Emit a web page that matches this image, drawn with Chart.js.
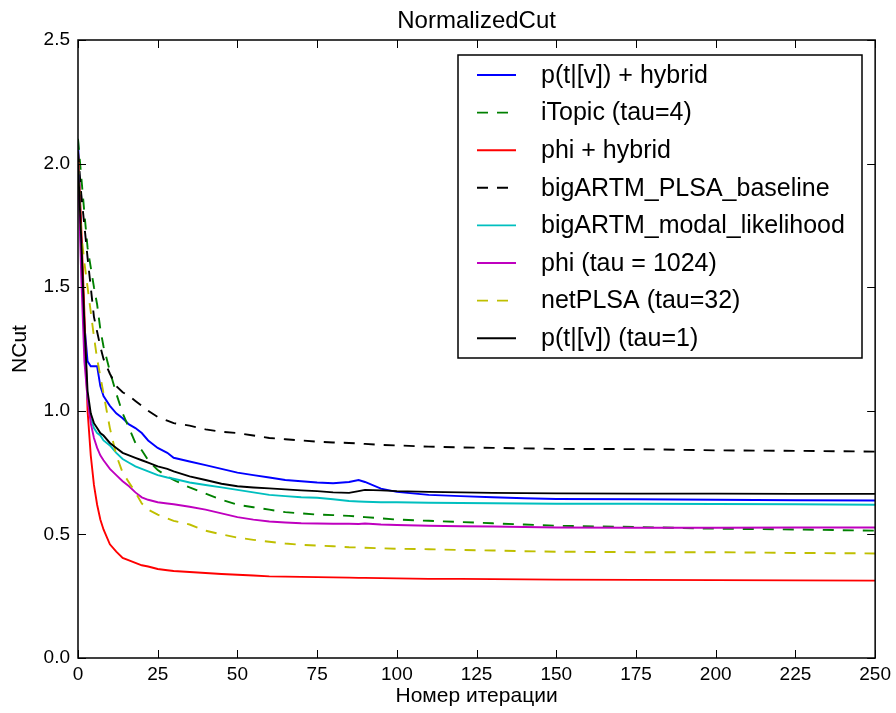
<!DOCTYPE html>
<html>
<head>
<meta charset="utf-8">
<style>
  html, body { margin: 0; padding: 0; background: #fff; }
  #wrap { width: 896px; height: 713px; }
</style>
<script src="https://cdn.jsdelivr.net/npm/chart.js@4.4.0/dist/chart.umd.min.js"></script>
</head>
<body>
<div id="wrap"><canvas id="myChart" width="896" height="713"></canvas></div>
<script>
// iteration numbers where values were read
const iterations = [0, 1, 2, 3, 4, 5, 6, 7, 8, 10, 12, 14, 16, 18, 20, 22, 25, 28, 30, 35, 40, 45, 50, 55, 60, 65, 70, 75, 80, 85, 88, 90, 95, 100, 110, 120, 130, 140, 150, 175, 200, 225, 250];

const seriesNames = ['p(t|[v]) + hybrid', 'iTopic (tau=4)', 'phi + hybrid', 'bigARTM_PLSA_baseline',
    'bigARTM_modal_likelihood', 'phi (tau = 1024)', 'netPLSA (tau=32)', 'p(t|[v]) (tau=1)'];

const ptvHybrid = [2.1, 1.7, 1.35, 1.2, 1.18, 1.18, 1.18, 1.1, 1.06, 1.02, 0.99, 0.97, 0.945, 0.93, 0.91, 0.88, 0.85, 0.83, 0.81, 0.795, 0.78, 0.765, 0.75, 0.74, 0.73, 0.72, 0.715, 0.71, 0.707, 0.712, 0.72, 0.712, 0.685, 0.672, 0.66, 0.655, 0.65, 0.646, 0.643, 0.642, 0.64, 0.638, 0.637];
const iTopic = [2.1, 1.95, 1.8, 1.66, 1.58, 1.5, 1.43, 1.33, 1.26, 1.16, 1.07, 0.99, 0.93, 0.87, 0.84, 0.8, 0.76, 0.735, 0.72, 0.69, 0.665, 0.64, 0.62, 0.61, 0.6, 0.59, 0.585, 0.58, 0.578, 0.575, 0.572, 0.57, 0.565, 0.56, 0.555, 0.55, 0.545, 0.54, 0.535, 0.53, 0.523, 0.52, 0.515];
const phiHybrid = [2.05, 1.75, 1.4, 1.0, 0.82, 0.7, 0.62, 0.56, 0.52, 0.46, 0.43, 0.405, 0.395, 0.385, 0.375, 0.37, 0.36, 0.355, 0.352, 0.348, 0.344, 0.34, 0.337, 0.334, 0.33, 0.329, 0.328, 0.327, 0.326, 0.325, 0.324, 0.324, 0.323, 0.322, 0.32, 0.32, 0.319, 0.318, 0.317, 0.316, 0.315, 0.314, 0.313];
const plsaBaseline = [2.05, 1.88, 1.75, 1.62, 1.5, 1.38, 1.32, 1.26, 1.21, 1.15, 1.1, 1.075, 1.06, 1.04, 1.02, 1.0, 0.975, 0.96, 0.95, 0.94, 0.925, 0.915, 0.91, 0.9, 0.89, 0.885, 0.88, 0.875, 0.872, 0.87, 0.868, 0.866, 0.862, 0.86, 0.855, 0.852, 0.85, 0.848, 0.846, 0.845, 0.84, 0.838, 0.835];
const modalLikelihood = [2.0, 1.65, 1.3, 1.05, 0.97, 0.93, 0.91, 0.9, 0.88, 0.86, 0.83, 0.805, 0.79, 0.775, 0.765, 0.755, 0.74, 0.73, 0.725, 0.71, 0.7, 0.69, 0.68, 0.67, 0.66, 0.655, 0.65, 0.648, 0.642, 0.635, 0.633, 0.632, 0.63, 0.63, 0.628, 0.627, 0.626, 0.625, 0.624, 0.624, 0.623, 0.622, 0.62];
const phiTau1024 = [2.0, 1.55, 1.2, 1.05, 0.95, 0.89, 0.85, 0.82, 0.8, 0.765, 0.74, 0.715, 0.695, 0.67, 0.65, 0.64, 0.63, 0.625, 0.622, 0.612, 0.6, 0.585, 0.57, 0.56, 0.552, 0.548, 0.545, 0.544, 0.543, 0.543, 0.542, 0.544, 0.54, 0.538, 0.535, 0.533, 0.532, 0.53, 0.528, 0.527, 0.527, 0.528, 0.528];
const netPLSA = [2.0, 1.72, 1.6, 1.5, 1.4, 1.3, 1.21, 1.14, 1.07, 0.93, 0.82, 0.75, 0.71, 0.67, 0.625, 0.6, 0.58, 0.565, 0.555, 0.54, 0.515, 0.5, 0.487, 0.478, 0.47, 0.463, 0.458, 0.455, 0.452, 0.448, 0.447, 0.446, 0.444, 0.442, 0.44, 0.437, 0.435, 0.432, 0.43, 0.428, 0.428, 0.425, 0.423];
const ptvTau1 = [2.0, 1.7, 1.35, 1.08, 0.99, 0.95, 0.93, 0.91, 0.9, 0.87, 0.85, 0.83, 0.82, 0.81, 0.8, 0.79, 0.775, 0.765, 0.755, 0.735, 0.72, 0.705, 0.695, 0.69, 0.686, 0.682, 0.678, 0.675, 0.67, 0.668, 0.675, 0.68, 0.678, 0.675, 0.672, 0.67, 0.668, 0.667, 0.666, 0.665, 0.665, 0.664, 0.664];

const xTicks = [0, 25, 50, 75, 100, 125, 150, 175, 200, 225, 250];
const yTicks = [0.0, 0.5, 1.0, 1.5, 2.0, 2.5];

const FONT = "'Liberation Sans', Arial, sans-serif";
const seriesValues = [ptvHybrid, iTopic, phiHybrid, plsaBaseline, modalLikelihood, phiTau1024, netPLSA, ptvTau1];
const seriesColors = ['#0000ff', '#008000', '#ff0000', '#000000', '#00bfbf', '#bf00bf', '#bfbf00', '#000000'];
const seriesDashed = [false, true, false, true, false, false, true, false];

const datasets = seriesNames.map((name, i) => ({
    label: name,
    data: iterations.map((it, j) => ({ x: it, y: seriesValues[i][j] })),
    borderColor: seriesColors[i],
    borderDash: seriesDashed[i] ? [11, 9] : [],
    borderWidth: 1.9,
    pointRadius: 0,
    tension: 0,
    fill: false,
    order: seriesNames.length - i   // later series on top, like matplotlib
}));

// frame, inward ticks and boxed legend inside the plot
const framePlugin = {
    id: 'frame',
    afterDatasetsDraw(chart) {
        const { ctx, chartArea: a, scales } = chart;
        ctx.save();
        ctx.strokeStyle = '#000';
        ctx.lineWidth = 1.5;
        ctx.strokeRect(a.left, a.top, a.right - a.left, a.bottom - a.top);
        ctx.lineWidth = 1;
        ctx.beginPath();
        xTicks.forEach(v => {
            const px = Math.round(scales.x.getPixelForValue(v)) + 0.5;
            ctx.moveTo(px, a.bottom); ctx.lineTo(px, a.bottom - 8);
            ctx.moveTo(px, a.top); ctx.lineTo(px, a.top + 8);
        });
        yTicks.forEach(v => {
            const py = Math.round(scales.y.getPixelForValue(v)) + 0.5;
            ctx.moveTo(a.left, py); ctx.lineTo(a.left + 8, py);
            ctx.moveTo(a.right, py); ctx.lineTo(a.right - 8, py);
        });
        ctx.stroke();

        // legend
        const bx = 458, by = 55, bw = 404, bh = 303, rowH = 37.6;
        ctx.fillStyle = '#fff';
        ctx.fillRect(bx, by, bw, bh);
        ctx.lineWidth = 1.5;
        ctx.strokeStyle = '#000';
        ctx.strokeRect(bx, by, bw, bh);
        ctx.font = '25px ' + FONT;
        ctx.textBaseline = 'middle';
        chart.data.datasets.forEach((ds, i) => {
            const y = by + 20 + i * rowH;
            ctx.strokeStyle = ds.borderColor;
            ctx.lineWidth = 1.9;
            ctx.setLineDash(ds.borderDash);
            ctx.beginPath();
            ctx.moveTo(477, y); ctx.lineTo(516, y);
            ctx.stroke();
            ctx.setLineDash([]);
            ctx.fillStyle = '#000';
            ctx.fillText(ds.label, 541, y + 1);
        });
        ctx.restore();
    }
};

const ctx = document.getElementById('myChart').getContext('2d');
const myChart = new Chart(ctx, {
    type: 'line',
    data: { datasets: datasets },
    options: {
        responsive: false,
        animation: false,
        layout: { padding: { left: 0, right: 20, top: 0, bottom: 0 } },
        plugins: {
            legend: { display: false },
            tooltip: { enabled: false },
            title: {
                display: true,
                text: 'NormalizedCut',
                fullSize: false,
                color: '#000',
                font: { family: FONT, size: 24, weight: 'normal' },
                padding: { top: 7, bottom: 4.2 }
            }
        },
        scales: {
            x: {
                type: 'linear',
                min: 0,
                max: 250,
                afterFit(scale) { scale.height = 55; },
                afterBuildTicks(scale) { scale.ticks = xTicks.map(v => ({ value: v })); },
                grid: { display: false, drawTicks: false },
                border: { display: false },
                ticks: { color: '#000', padding: 5, maxRotation: 0, font: { family: FONT, size: 19 } },
                title: {
                    display: true,
                    text: 'Номер итерации',
                    color: '#000',
                    font: { family: FONT, size: 21 },
                    padding: { top: 0, bottom: 4 }
                }
            },
            y: {
                type: 'linear',
                min: 0,
                max: 2.5,
                afterFit(scale) { scale.width = 78; },
                afterBuildTicks(scale) { scale.ticks = yTicks.map(v => ({ value: v })); },
                grid: { display: false, drawTicks: false },
                border: { display: false },
                ticks: {
                    color: '#000', padding: 8,
                    font: { family: FONT, size: 19 },
                    callback: v => Number(v).toFixed(1)
                },
                title: {
                    display: true,
                    text: 'NCut',
                    color: '#000',
                    font: { family: FONT, size: 21 },
                    padding: { top: 8, bottom: 0 }
                }
            }
        }
    },
    plugins: [framePlugin]
});
</script>
</body>
</html>
